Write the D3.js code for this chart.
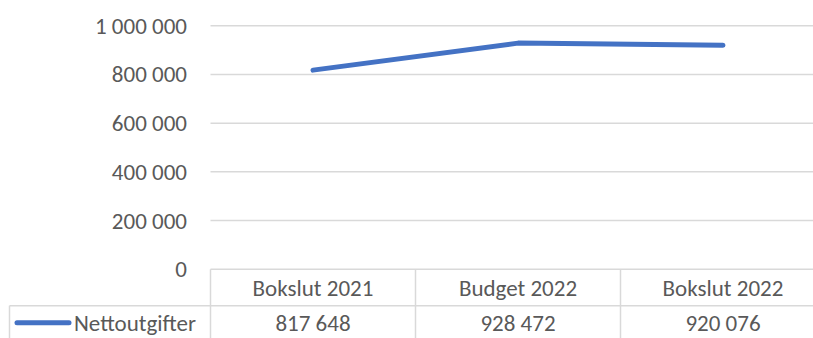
<!DOCTYPE html>
<html>
<head>
<meta charset="utf-8">
<script src="https://cdn.jsdelivr.net/npm/d3@7"></script>
<style>
  html, body { margin: 0; padding: 0; background: #fff; }
  svg { display: block; }
  text { font-family: Carlito, Calibri, Lato, sans-serif; fill: #595959; }
</style>
</head>
<body>
<svg id="chart" width="813" height="338"></svg>
<script>
// Net expenditure per period
const categories = ["Bokslut 2021", "Budget 2022", "Bokslut 2022"];
const seriesName = "Nettoutgifter";
const values = [817648, 928472, 920076];
const yTicks = [0, 200000, 400000, 600000, 800000, 1000000];

const W = 813, H = 338;
const plotLeft = 210.5, plotRight = 825.5;
const plotTop = 25.7, plotBottom = 269.3;
const rowDivider = 305.7;
const tableLeft = 9.5;
const grid = "#d9d9d9";
const lineColor = "#4472C4";
const fontSize = 23;

const svg = d3.select("#chart");

const x = d3.scaleBand().domain(categories).range([plotLeft, plotRight]);
const y = d3.scaleLinear().domain([0, 1000000]).range([plotBottom, plotTop]);

// Swedish-style grouping: spaces between thousands
const fmt = v => d3.format(",")(v).replace(/,/g, " ");

// Horizontal gridlines
svg.append("g")
  .selectAll("line")
  .data(yTicks.filter(d => d > 0))
  .join("line")
  .attr("x1", plotLeft).attr("x2", W)
  .attr("y1", d => y(d)).attr("y2", d => y(d))
  .attr("stroke", grid).attr("stroke-width", 1.5);

// Y tick labels
svg.append("g")
  .selectAll("text")
  .data(yTicks)
  .join("text")
  .attr("x", 187)
  .attr("y", d => y(d))
  .attr("dy", "0.35em")
  .attr("text-anchor", "end")
  .style("font-size", fontSize + "px")
  .text(fmt);

// Data table borders
const table = svg.append("g").attr("stroke", grid).attr("stroke-width", 1.5);
table.append("line").attr("x1", plotLeft).attr("x2", W).attr("y1", plotBottom).attr("y2", plotBottom);
table.append("line").attr("x1", tableLeft).attr("x2", W).attr("y1", rowDivider).attr("y2", rowDivider);
table.append("line").attr("x1", tableLeft).attr("x2", tableLeft).attr("y1", rowDivider).attr("y2", H);
table.selectAll("line.col")
  .data(categories)
  .join("line")
  .attr("class", "col")
  .attr("x1", d => x(d)).attr("x2", d => x(d))
  .attr("y1", plotBottom).attr("y2", H);

// Category header row
svg.append("g")
  .selectAll("text")
  .data(categories)
  .join("text")
  .attr("x", d => x(d) + x.bandwidth() / 2)
  .attr("y", (plotBottom + rowDivider) / 2)
  .attr("dy", "0.35em")
  .attr("text-anchor", "middle")
  .style("font-size", fontSize + "px")
  .text(d => d);

// Value row
svg.append("g")
  .selectAll("text")
  .data(values)
  .join("text")
  .attr("x", (d, i) => x(categories[i]) + x.bandwidth() / 2)
  .attr("y", rowDivider + 17)
  .attr("dy", "0.35em")
  .attr("text-anchor", "middle")
  .style("font-size", fontSize + "px")
  .text(fmt);

// Legend key in the table
svg.append("line")
  .attr("x1", 17).attr("x2", 69)
  .attr("y1", rowDivider + 17).attr("y2", rowDivider + 17)
  .attr("stroke", lineColor).attr("stroke-width", 5)
  .attr("stroke-linecap", "round");
svg.append("text")
  .attr("x", 74)
  .attr("y", rowDivider + 17)
  .attr("dy", "0.35em")
  .style("font-size", fontSize + "px")
  .text(seriesName);

// Series line
const line = d3.line()
  .x((d, i) => x(categories[i]) + x.bandwidth() / 2)
  .y(d => y(d));
svg.append("path")
  .datum(values)
  .attr("d", line)
  .attr("fill", "none")
  .attr("stroke", lineColor)
  .attr("stroke-width", 5)
  .attr("stroke-linecap", "round")
  .attr("stroke-linejoin", "round");
</script>
</body>
</html>
